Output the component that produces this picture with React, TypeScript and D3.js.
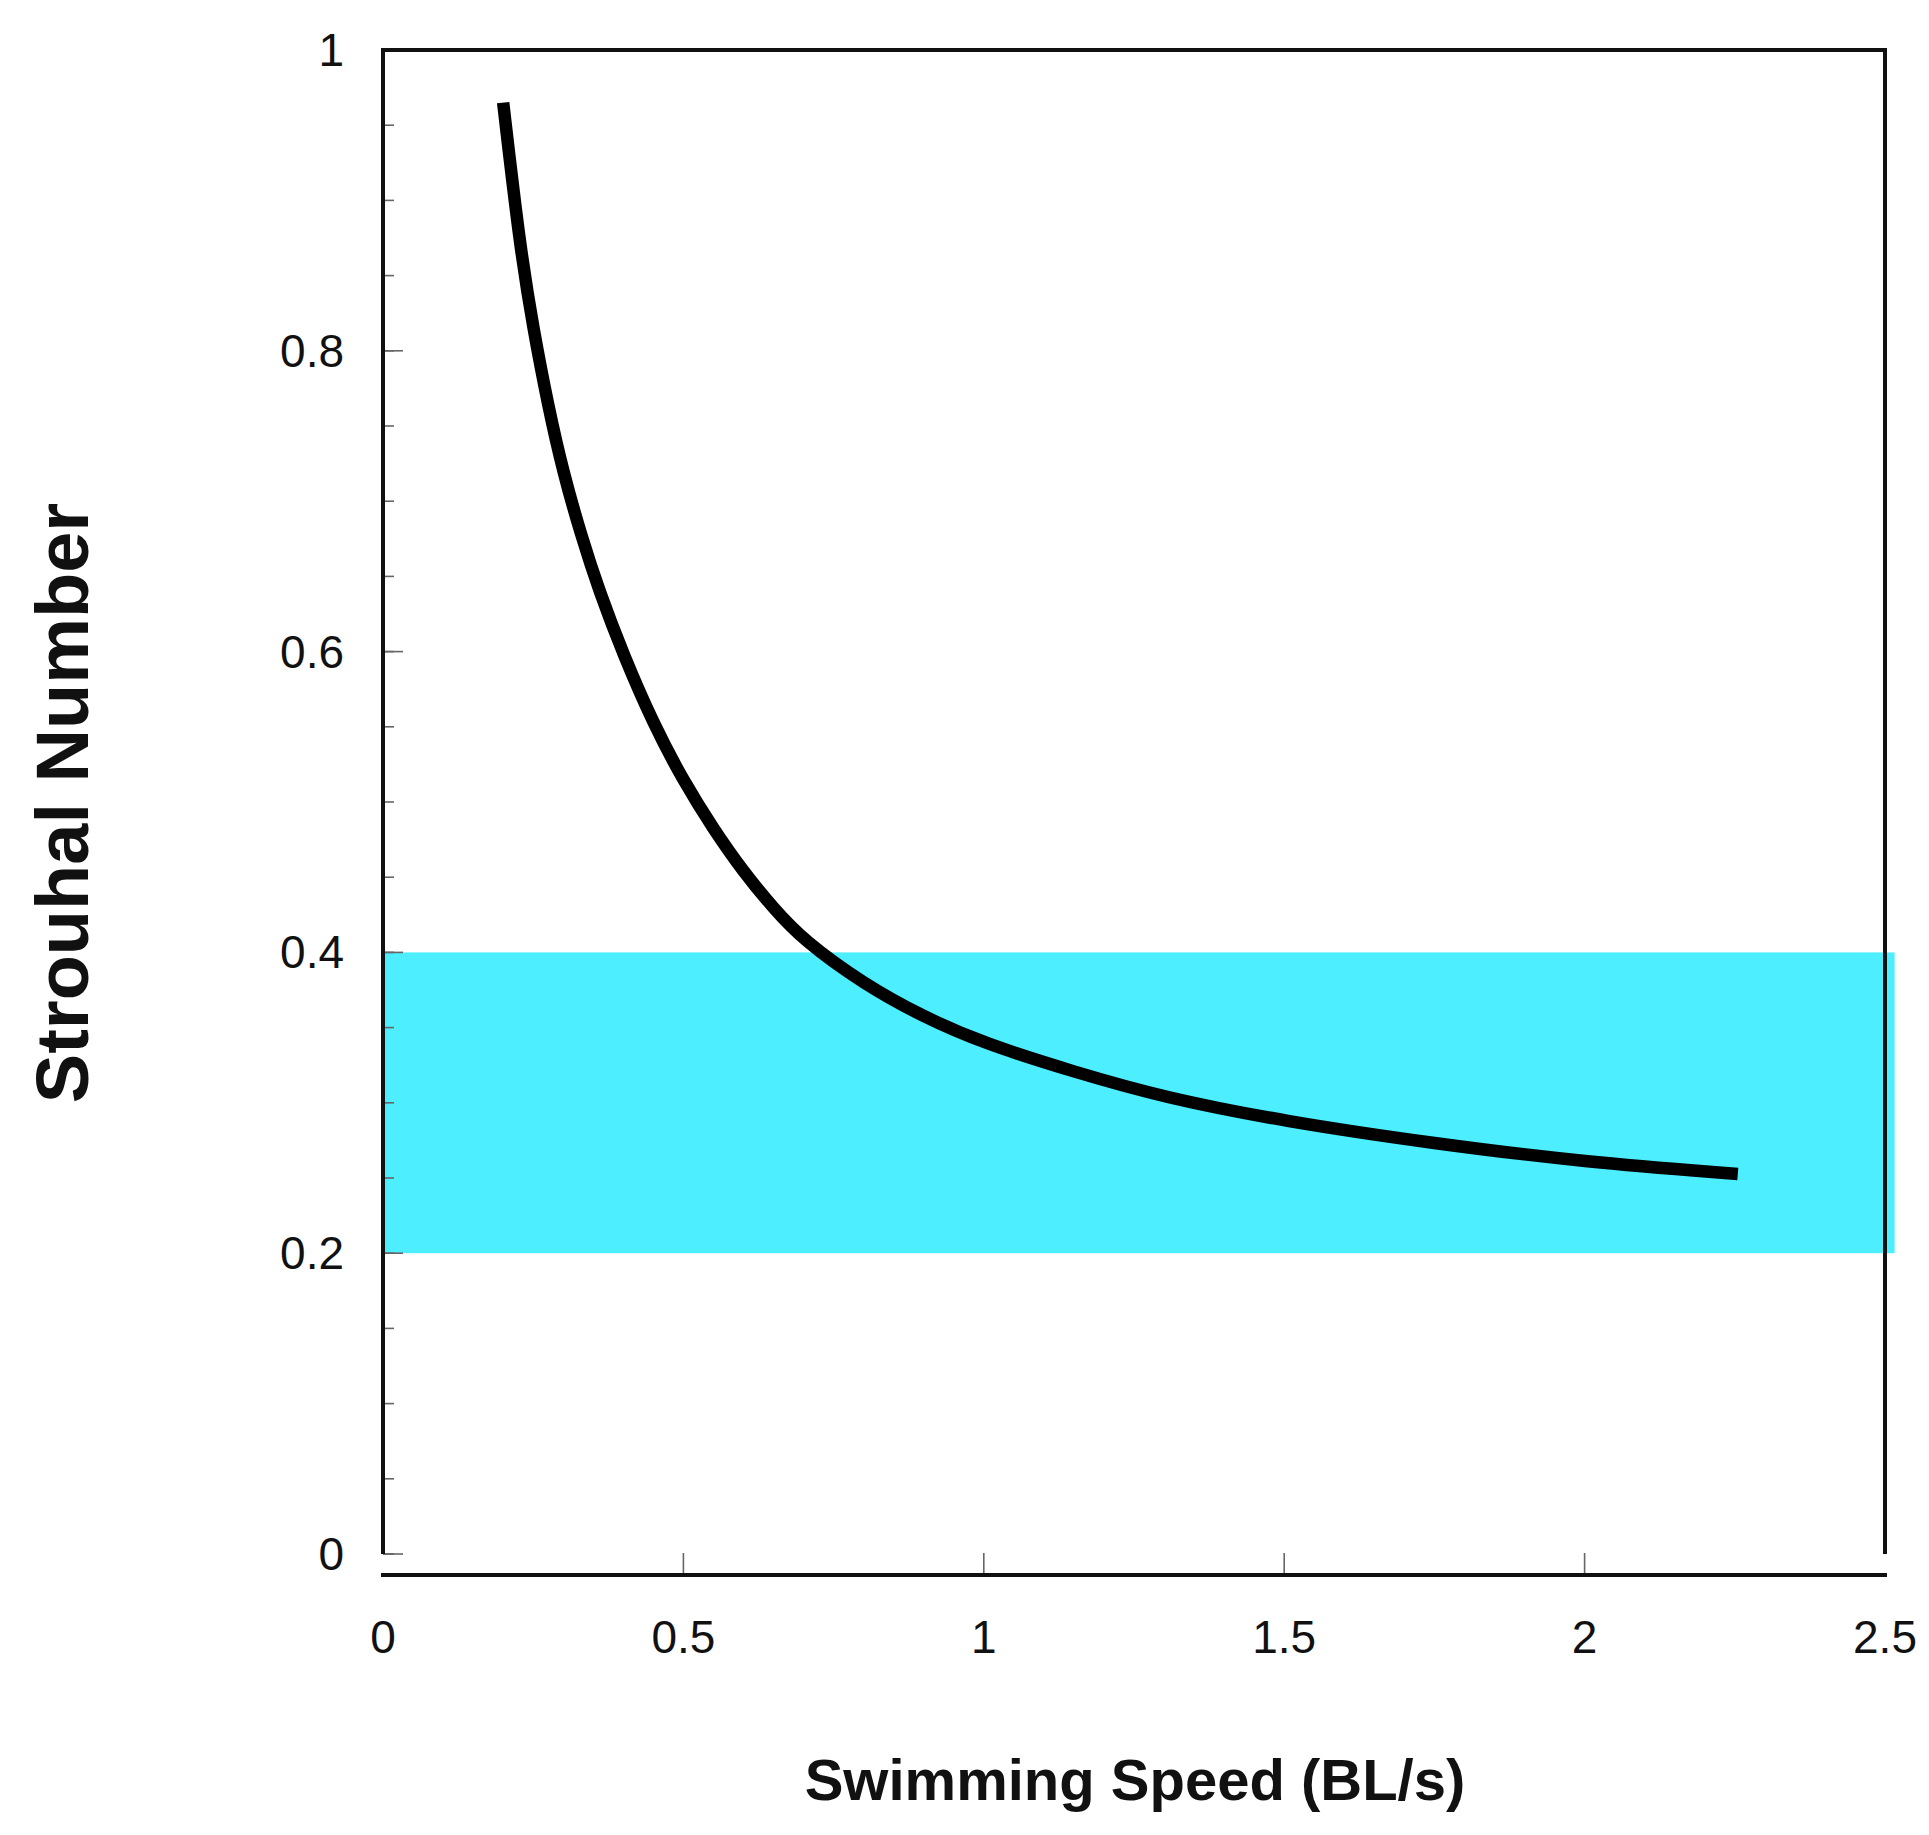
import React, { useEffect } from 'react';
import * as d3 from 'd3';

// curve
const speed = [0.2, 0.228, 0.25, 0.275, 0.3, 0.33, 0.36, 0.4, 0.45, 0.5, 0.55, 0.6, 0.65, 0.7, 0.8, 0.9, 1.0, 1.15, 1.3, 1.5, 1.75, 2.0, 2.255];
const strouhal = [0.965, 0.8689, 0.815, 0.763, 0.719, 0.677, 0.64, 0.598, 0.552, 0.514, 0.482, 0.4535, 0.4293, 0.408, 0.379, 0.357, 0.3395, 0.3206, 0.3035, 0.2877, 0.2729, 0.2606, 0.2527];

// efficient swimming band
const bandLow = 0.2;
const bandHigh = 0.4;

const xTicks = [0, 0.5, 1, 1.5, 2, 2.5];
const xTickLabels = ['0', '0.5', '1', '1.5', '2', '2.5'];
const yTicks = [0, 0.2, 0.4, 0.6, 0.8, 1];
const yTickLabels = ['0', '0.2', '0.4', '0.6', '0.8', '1'];
const yMinorTicks = d3.range(0, 20).map(i => i * 0.05);

const W = 1929;
const H = 1835;
const margin = { top: 50, left: 383, right: 44, bottom: 281 };
const font = '"Liberation Sans", Arial, Helvetica, sans-serif';

const App: React.FC = () => {
  useEffect(() => {
    document.body.style.margin = '0';
  }, []);

  const innerW = W - margin.left - margin.right;
  const innerH = H - margin.top - margin.bottom;

  const x = d3.scaleLinear().domain([0, 2.5]).range([margin.left, margin.left + innerW]);
  const y = d3.scaleLinear().domain([0, 1]).range([margin.top + innerH, margin.top]);

  const line = d3.line<number>()
    .x((_, i) => x(speed[i]))
    .y(d => y(d))
    .curve(d3.curveBasis);

  const axisY = y(0) + 21; // x axis sits a bit below zero
  const frameColor = '#111';

  return (
    <svg width={W} height={H} style={{ display: 'block', background: 'white' }}>
      {/* band */}
      <rect
        x={x(0)}
        y={y(bandHigh)}
        width={x(2.516) - x(0)}
        height={y(bandLow) - y(bandHigh)}
        fill="#4deeff"
      />

      {/* y ticks */}
      {yMinorTicks.map(t => (
        <line key={'m' + t} x1={x(0)} x2={x(0) + 11} y1={y(t)} y2={y(t)} stroke="#666" strokeWidth={1.6} />
      ))}
      {yTicks.map(t => (
        <line key={'M' + t} x1={x(0)} x2={x(0) + 20} y1={y(t)} y2={y(t)} stroke="#666" strokeWidth={1.6} />
      ))}
      {yTicks.map((t, i) => (
        <text key={'yl' + t} x={x(0) - 39} y={y(t) + 16} textAnchor="end" fontFamily={font} fontSize={46} fill="#111">
          {yTickLabels[i]}
        </text>
      ))}

      {/* x ticks */}
      {xTicks.slice(1, -1).map(t => (
        <line key={'x' + t} x1={x(t)} x2={x(t)} y1={axisY} y2={axisY - 22} stroke="#666" strokeWidth={1.6} />
      ))}
      {xTicks.map((t, i) => (
        <text key={'xl' + t} x={x(t)} y={1653} textAnchor="middle" fontFamily={font} fontSize={46} fill="#111">
          {xTickLabels[i]}
        </text>
      ))}

      {/* frame */}
      <line x1={x(0) - 2} x2={x(2.5) + 2} y1={y(1)} y2={y(1)} stroke={frameColor} strokeWidth={4} />
      <line x1={x(0)} x2={x(0)} y1={y(1)} y2={y(0)} stroke={frameColor} strokeWidth={4} />
      <line x1={x(2.5)} x2={x(2.5)} y1={y(1)} y2={y(0)} stroke={frameColor} strokeWidth={4} />
      <line x1={x(0) - 2} x2={x(2.5) + 2} y1={axisY} y2={axisY} stroke={frameColor} strokeWidth={4} />

      {/* curve */}
      <path d={line(strouhal) || ''} fill="none" stroke="#000" strokeWidth={12.5} strokeLinecap="butt" strokeLinejoin="round" />

      {/* axis titles */}
      <text x={1135} y={1800} textAnchor="middle" fontFamily={font} fontSize={58} fontWeight="bold" fill="#111">
        Swimming Speed (BL/s)
      </text>
      <text
        transform="translate(88,803) rotate(-90)"
        textAnchor="middle"
        fontFamily={font}
        fontSize={74}
        fontWeight="bold"
        fill="#111"
      >
        Strouhal Number
      </text>
    </svg>
  );
};

export default App;
